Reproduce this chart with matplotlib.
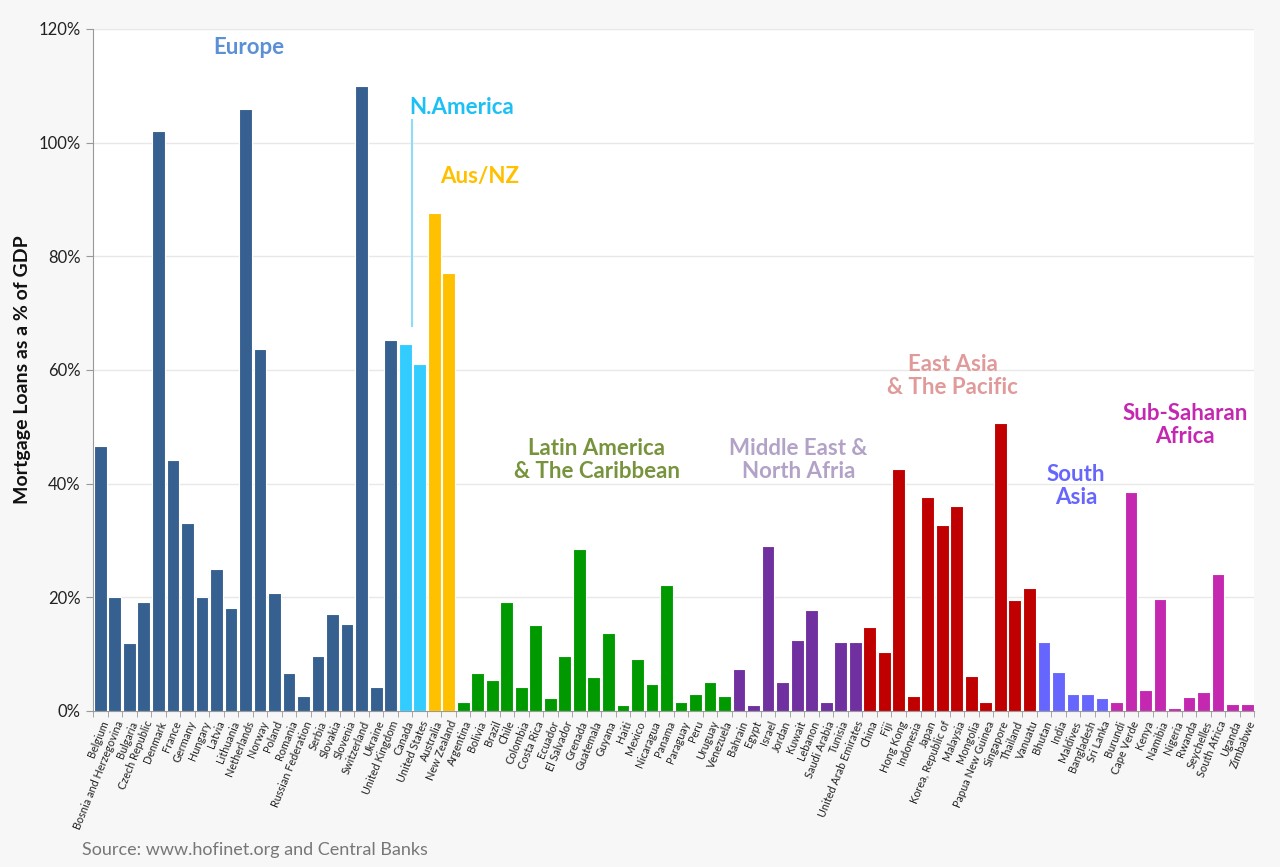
import matplotlib
matplotlib.use("Agg")
import matplotlib.pyplot as plt
import numpy as np

plt.rcParams['font.family'] = ['Lato', 'DejaVu Sans']

europe = ["Belgium", "Bosnia and Herzegovina", "Bulgaria", "Czech Republic", "Denmark", "France",
          "Germany", "Hungary", "Latvia", "Lithuania", "Netherlands", "Norway", "Poland", "Romania",
          "Russian Federation", "Serbia", "Slovakia", "Slovenia", "Switzerland", "Ukraine", "United Kingdom"]
europe_v = [46.6, 20.0, 11.9, 19.2, 102.1, 44.2, 33.0, 20.0, 25.0, 18.1, 106.0, 63.6, 20.7, 6.7,
            2.6, 9.7, 17.1, 15.3, 109.9, 4.2, 65.2]
namerica = ["Canada", "United States"]
namerica_v = [64.5, 61.1]
ausnz = ["Australia", "New Zealand"]
ausnz_v = [87.6, 77.1]
latam = ["Argentina", "Bolivia", "Brazil", "Chile", "Colombia", "Costa Rica", "Ecuador", "El Salvador",
         "Grenada", "Guatemala", "Guyana", "Haiti", "Mexico", "Nicaragua", "Panama", "Paraguay", "Peru",
         "Uruguay", "Venezuela"]
latam_v = [1.6, 6.7, 5.5, 19.1, 4.2, 15.1, 2.3, 9.7, 28.5, 6.0, 13.7, 1.1, 9.2, 4.7, 22.1, 1.5, 3.0,
           5.1, 2.6]
mena = ["Bahrain", "Egypt", "Israel", "Jordan", "Kuwait", "Lebanon", "Saudi Arabia", "Tunisia",
        "United Arab Emirates"]
mena_v = [7.3, 1.1, 29.0, 5.1, 12.5, 17.7, 1.5, 12.1, 12.2]
eastasia = ["China", "Fiji", "Hong Kong", "Indonesia", "Japan", "Korea, Republic of", "Malaysia",
            "Mongolia", "Papua New Guinea", "Singapore", "Thailand", "Vanuatu"]
eastasia_v = [14.7, 10.3, 42.6, 2.6, 37.7, 32.7, 36.1, 6.2, 1.5, 50.6, 19.5, 21.6]
southasia = ["Bhutan", "India", "Maldives", "Bangladesh", "Sri Lanka"]
southasia_v = [12.1, 6.8, 3.0, 3.0, 2.2]
ssa = ["Burundi", "Cape Verde", "Kenya", "Namibia", "Nigeria", "Rwanda", "Seychelles", "South Africa",
       "Uganda", "Zimbabwe"]
ssa_v = [1.5, 38.6, 3.6, 19.7, 0.6, 2.4, 3.3, 24.1, 1.2, 1.3]

groups = [
    (europe, europe_v, "#36608f"),
    (namerica, namerica_v, "#33ccff"),
    (ausnz, ausnz_v, "#ffc000"),
    (latam, latam_v, "#009a00"),
    (mena, mena_v, "#7030a0"),
    (eastasia, eastasia_v, "#c00000"),
    (southasia, southasia_v, "#6666ff"),
    (ssa, ssa_v, "#c428b0"),
]

fig = plt.figure(figsize=(12.8, 8.67), dpi=100, facecolor="#f7f7f7")
ax = fig.add_axes([0.0727, 0.18, 0.9073, 0.7866])
ax.set_facecolor("white")

names = []
start = 0
for cats, vals, col in groups:
    xs = np.arange(start, start + len(cats))
    ax.bar(xs, vals, width=0.88, color=col, edgecolor="white", linewidth=0.8, zorder=3)
    names += cats
    start += len(cats)

n = len(names)
ax.set_xlim(-0.42, n - 0.57)
ax.set_ylim(0, 120)
ax.set_yticks(np.arange(0, 121, 20))
ax.set_yticklabels([f"{v}%" for v in range(0, 121, 20)], fontsize=12, color="#222222")
ax.yaxis.grid(True, color="#e8e8e8", linewidth=1, zorder=0)

ax.set_xticks(np.arange(n))
ax.set_xticklabels(names, rotation=68, ha="right", va="top", rotation_mode="anchor",
                   fontsize=7.8, color="#222222")
ax.tick_params(axis="x", which="major", length=0, pad=6)
ax.set_xticks(np.arange(n + 1) - 0.5, minor=True)
ax.tick_params(axis="x", which="minor", length=4, color="#999999", direction="out")
ax.tick_params(axis="y", length=5, color="#999999", direction="out", pad=4)

for s in ["top", "right"]:
    ax.spines[s].set_visible(False)
ax.spines["left"].set_color("#999999")
ax.spines["bottom"].set_color("#999999")

ax.set_ylabel("Mortgage Loans as a % of GDP", fontsize=14, fontweight="bold", color="#111111",
              labelpad=5)

tk = dict(fontsize=16, fontweight="bold", ha="center", va="center", linespacing=1.1, zorder=5)
ax.text(10.25, 116.8, "Europe", color="#5b8fd6", **tk)
ax.text(24.9, 106.1, "N.America", color="#1cc0f5", **tk)
ax.text(26.1, 94.1, "Aus/NZ", color="#ffc000", **tk)
ax.text(34.2, 44.2, "Latin America\n& The Caribbean", color="#77933c", **tk)
ax.text(48.1, 44.2, "Middle East &\nNorth Afria", color="#b3a2c7", **tk)
ax.text(58.7, 58.9, "East Asia\n& The Pacific", color="#e09a9a", **tk)
ax.text(67.2, 39.6, "South\nAsia", color="#6666ff", **tk)
ax.text(74.7, 50.3, "Sub-Saharan\nAfrica", color="#c428b0", **tk)
ax.plot([21.5, 21.5], [104.0, 67.7], color="#8fdcf7", linewidth=1.5, zorder=4)

fig.text(82 / 1280, 1 - 850 / 867, "Source: www.hofinet.org and Central Banks", fontsize=13,
         color="#777777", ha="left", va="center")

fig.savefig("out.png", dpi=100, facecolor=fig.get_facecolor())
